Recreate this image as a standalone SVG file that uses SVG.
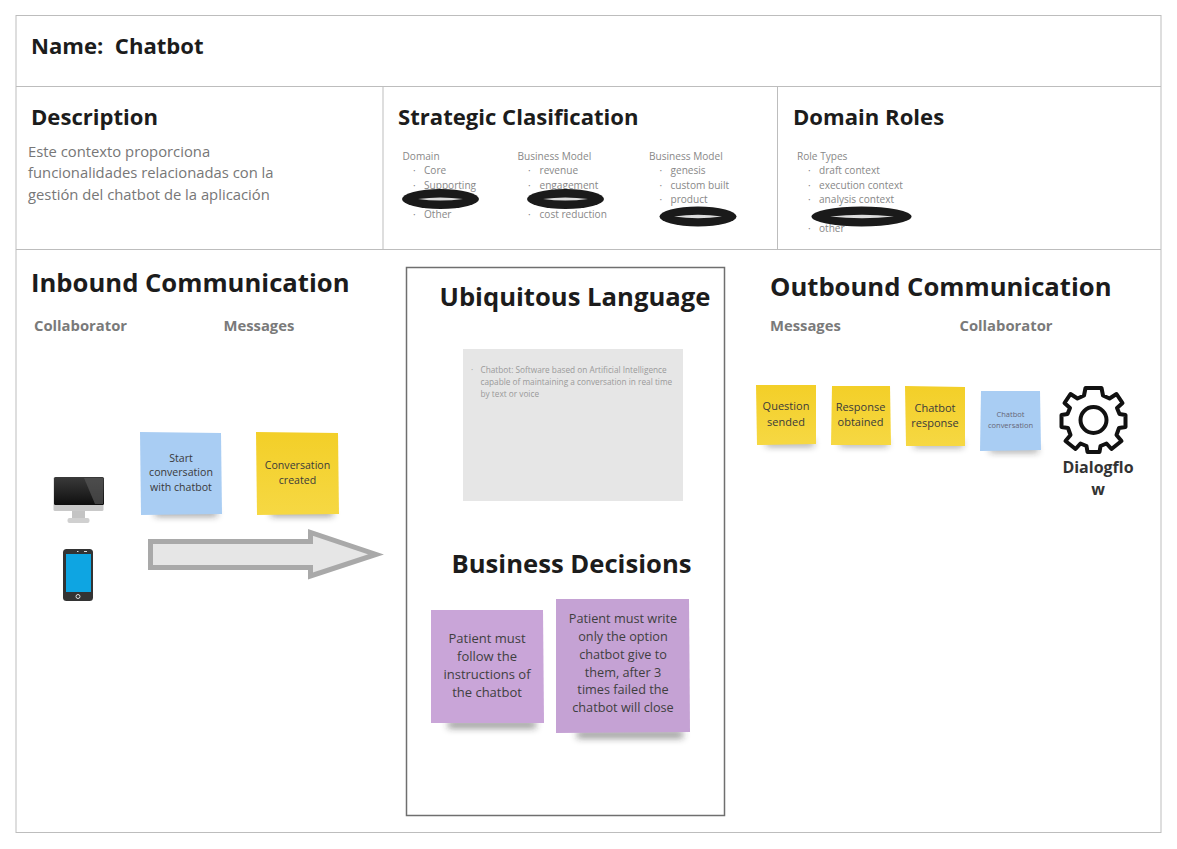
<svg xmlns="http://www.w3.org/2000/svg" width="1177" height="849" viewBox="0 0 1177 849">
<style>
text{font-family:"Open Sans","Noto Sans","Liberation Sans",sans-serif}
.h1{font-size:22.100px;font-weight:700;fill:#1c1c1c;white-space:pre}
.h2{font-size:25.650px;font-weight:700;fill:#1c1c1c}
.sub{font-size:14.800px;font-weight:700;fill:#7a7a7a}
.desc{font-size:14.800px;fill:#777}
.s{font-size:10.100px;fill:#888}
.d{font-size:8.250px;fill:#9a9a9a}
.n{font-size:10.600px;fill:#3a3a3a;text-anchor:middle}
.b{font-size:12.700px;fill:#3f3f3f;text-anchor:middle}
.line{stroke:#bdbdbd;stroke-width:1;fill:none}
.blot{fill:#1a1a1a}
.slit{fill:#dcdcdc}
.shadow{fill:#222;opacity:.5;filter:url(#blur)}
</style>
<defs>
<filter id="blur" x="-20%" y="-150%" width="140%" height="400%"><feGaussianBlur stdDeviation="3.500"/></filter>
<linearGradient id="yellow" x1="0" y1="0" x2="0" y2="1"><stop offset="0" stop-color="#f3cf28"/><stop offset="1" stop-color="#f6d843"/></linearGradient>
<linearGradient id="screen" x1="0" y1="0" x2="0" y2="1"><stop offset="0" stop-color="#3a3a3a"/><stop offset="1" stop-color="#0f0f0f"/></linearGradient>
</defs>
<rect width="1177" height="849" fill="#fff"/>
<g id="frame">
<rect class="line" x="16" y="15.500" width="1145" height="817"/>
<path class="line" d="M16 86.500H1161M16 249.500H1161M383 87V249M777.500 87V249"/>
</g>
<g id="name"><text class="h1" x="31" y="54">Name:  Chatbot</text></g>
<g id="description">
<text class="h1" x="31" y="125">Description</text>
<text class="desc" x="28" y="157">Este contexto proporciona</text>
<text class="desc" x="28" y="178">funcionalidades relacionadas con la</text>
<text class="desc" x="28" y="200">gestión del chatbot de la aplicación</text>
</g>
<g id="strategic">
<text class="h1" x="398" y="125">Strategic Clasification</text>
<text class="s" x="402.500" y="160">Domain</text>
<text class="s" x="413" y="174">·</text><text class="s" x="424" y="174">Core</text>
<text class="s" x="413" y="189">·</text><text class="s" x="424" y="189">Supporting</text>
<text class="s" x="413" y="218">·</text><text class="s" x="424" y="218">Other</text>
<ellipse class="blot" cx="440.500" cy="199" rx="38.500" ry="10"/>
<path class="slit" d="M418 199Q440 196 463 199Q440 202 418 199Z"/>
<text class="s" x="517.500" y="160">Business Model</text>
<text class="s" x="528" y="174">·</text><text class="s" x="539.500" y="174">revenue</text>
<text class="s" x="528" y="189">·</text><text class="s" x="539.500" y="189">engagement</text>
<text class="s" x="528" y="218">·</text><text class="s" x="539.500" y="218">cost reduction</text>
<ellipse class="blot" cx="565.500" cy="199" rx="38.500" ry="10"/>
<path class="slit" d="M543 199Q565 196 588 199Q565 202 543 199Z"/>
<text class="s" x="649" y="160">Business Model</text>
<text class="s" x="659.500" y="174">·</text><text class="s" x="670.500" y="174">genesis</text>
<text class="s" x="659.500" y="189">·</text><text class="s" x="670.500" y="189">custom built</text>
<text class="s" x="659.500" y="203">·</text><text class="s" x="670.500" y="203">product</text>
<ellipse class="blot" cx="698" cy="216.500" rx="38.500" ry="10"/>
<path class="slit" d="M674 216.500Q698 213 722 216.500Q698 220 674 216.500Z"/>
</g>
<g id="roles">
<text class="h1" x="793" y="125">Domain Roles</text>
<text class="s" x="797" y="160">Role Types</text>
<text class="s" x="808" y="174">·</text><text class="s" x="819" y="174">draft context</text>
<text class="s" x="808" y="189">·</text><text class="s" x="819" y="189">execution context</text>
<text class="s" x="808" y="203">·</text><text class="s" x="819" y="203">analysis context</text>
<text class="s" x="808" y="232">·</text><text class="s" x="819" y="232">other</text>
<ellipse class="blot" cx="861.500" cy="216.500" rx="50" ry="10"/>
<path class="slit" d="M830 216.500Q862 213 894 216.500Q862 220 830 216.500Z"/>
</g>
<g id="inbound">
<text class="h2" x="31" y="292">Inbound Communication</text>
<text class="sub" x="34" y="331">Collaborator</text>
<text class="sub" x="223.500" y="331">Messages</text>
</g>
<g id="computer">
<rect x="53.500" y="477" width="50" height="34" rx="1.500" fill="#c9c9c9"/>
<rect x="54" y="477" width="50" height="28" rx="1.500" fill="url(#screen)"/>
<path d="M84 478H103V504H95Z" fill="#555" opacity=".7"/>
<rect x="72" y="511" width="13" height="7" fill="#c4c4c4"/>
<rect x="67.500" y="518" width="22" height="5" rx="2" fill="#d0d0d0"/>
</g>
<g id="phone">
<rect x="63" y="549" width="30" height="52" rx="3.500" fill="#333"/>
<rect x="66" y="554" width="25" height="38" fill="#0ea5e2"/>
<circle cx="78" cy="596.500" r="2" fill="none" stroke="#ddd" stroke-width="1"/>
<path d="M77 551.500h1.500M84 551.500h3" stroke="#ddd" stroke-width="1"/>
</g>
<g id="note-start">
<rect class="shadow" x="155" y="510" width="62" height="6"/>
<path d="M140 432L221 433L222 514L141 515Z" fill="#a9cdf3"/>
<text class="n" x="181" y="462">Start</text><text class="n" x="181" y="476">conversation</text><text class="n" x="181" y="491">with chatbot</text>
</g>
<g id="note-created">
<rect class="shadow" x="271" y="510" width="62" height="6"/>
<path d="M256 432L338 433L339 514L257 515Z" fill="url(#yellow)"/>
<text class="n" x="297.500" y="469">Conversation</text><text class="n" x="297.500" y="484">created</text>
</g>
<g id="connectors">
<path d="M150.500 541.500H310.500V532.500L376 554.500L310.500 576V567.500H150.500Z" fill="#e6e6e6" stroke="#a9a9a9" stroke-width="5"/>
</g>
<g id="center">
<rect x="406.500" y="267.500" width="318" height="548" fill="none" stroke="#6f6f6f" stroke-width="1.500"/>
<text class="h2" x="439.500" y="306">Ubiquitous Language</text>
<text class="h2" x="451.500" y="573">Business Decisions</text>
</g>
<g id="language">
<rect x="463" y="349" width="220" height="152" fill="#e6e6e6"/>
<text class="d" x="471" y="373">·</text>
<text class="d" x="480.500" y="373">Chatbot: Software based on Artificial Intelligence</text>
<text class="d" x="480.500" y="385">capable of maintaining a conversation in real time</text>
<text class="d" x="480.500" y="397">by text or voice</text>
</g>
<g id="note-follow">
<rect class="shadow" x="448" y="721" width="88" height="7"/>
<path d="M431 610H543L544 723L431 723Z" fill="#c9a5d8"/>
<text class="b" x="487" y="643" style="font-size:13px">Patient must</text><text class="b" x="487" y="661" style="font-size:13px">follow the</text><text class="b" x="487" y="679" style="font-size:13px">instructions of</text><text class="b" x="487" y="697" style="font-size:13px">the chatbot</text>
</g>
<g id="note-write">
<rect class="shadow" x="577" y="731" width="106" height="7"/>
<path d="M556 599H689L690 732L556 733Z" fill="#c5a2d4"/>
<text class="b" x="623" y="623">Patient must write</text><text class="b" x="623" y="641">only the option</text><text class="b" x="623" y="659">chatbot give to</text><text class="b" x="623" y="677">them, after 3</text><text class="b" x="623" y="694">times failed the</text><text class="b" x="623" y="712">chatbot will close</text>
</g>
<g id="outbound">
<text class="h2" x="770" y="296">Outbound Communication</text>
<text class="sub" x="770" y="331">Messages</text>
<text class="sub" x="959.500" y="331">Collaborator</text>
</g>
<g id="note-question">
<rect class="shadow" x="766" y="441" width="48" height="5"/>
<path d="M756 385H816V444L757 445Z" fill="url(#yellow)"/>
<text class="n" x="786" y="410" style="font-size:11px">Question</text><text class="n" x="786" y="426" style="font-size:11px">sended</text>
</g>
<g id="note-response">
<rect class="shadow" x="840" y="441" width="48" height="5"/>
<path d="M832 386H890L891 445L831 445Z" fill="url(#yellow)"/>
<text class="n" x="860.500" y="411" style="font-size:11px">Response</text><text class="n" x="860.500" y="426" style="font-size:11px">obtained</text>
</g>
<g id="note-chatbot">
<rect class="shadow" x="914" y="442" width="49" height="5"/>
<path d="M905 386L965 387V446L906 446Z" fill="url(#yellow)"/>
<text class="n" x="935" y="412" style="font-size:11px">Chatbot</text><text class="n" x="935" y="427" style="font-size:11px">response</text>
</g>
<g id="note-conversation">
<rect class="shadow" x="990" y="447" width="48" height="5"/>
<path d="M981 391H1040L1041 450L980 451Z" fill="#a9cdf3"/>
<text class="n" x="1010.500" y="417" style="font-size:7.500px;fill:#667">Chatbot</text><text class="n" x="1010.500" y="428" style="font-size:7.500px;fill:#667">conversation</text>
</g>
<g id="dialogflow">
<g transform="translate(1093.500 420)" fill="none" stroke="#111" stroke-width="4" stroke-linejoin="round">
<path d="M-8 -32H8L9.500 -24.500L16 -21.500L23 -26L29 -17L23.500 -12L26 -6L32 -5V7L25.500 8L23 15L28 21L18 29L13 23.500L7 26L6 32H-6L-7 26L-13 23.500L-18 29L-28 21L-23 15L-25.500 8L-32 7V-5L-26 -6L-23.500 -12L-29 -17L-23 -26L-16 -21.500L-9.500 -24.500Z"/>
<circle r="13"/>
</g>
<text x="1098" y="473" text-anchor="middle" style="font-size:16px;font-weight:700;fill:#333">Dialogflo</text>
<text x="1098" y="495" text-anchor="middle" style="font-size:16px;font-weight:700;fill:#333">w</text>
</g>
</svg>
